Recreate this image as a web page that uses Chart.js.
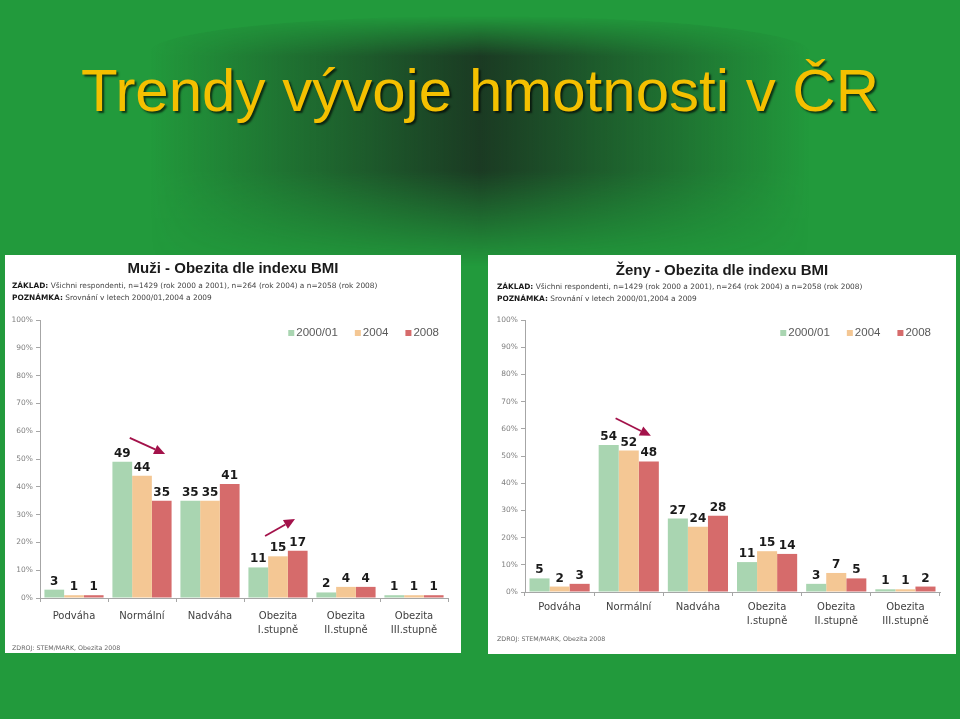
<!DOCTYPE html>
<html>
<head>
<meta charset="utf-8">
<script src="https://cdn.jsdelivr.net/npm/chart.js@4.4.0/dist/chart.umd.min.js"></script>
<style>
  html, body { margin: 0; padding: 0; }
  body {
    width: 960px; height: 719px; overflow: hidden; position: relative;
    background: #229a3c;
    font-family: "DejaVu Sans", sans-serif;
  }
  .shade {
    position: absolute; left: 150px; top: 16px; width: 660px; height: 250px;
    background: linear-gradient(to right, rgba(27,58,35,0) 0%, rgba(27,58,35,0.5) 25%, rgba(27,58,35,1) 50%, rgba(27,58,35,0.5) 75%, rgba(27,58,35,0) 100%);
    -webkit-mask-image: linear-gradient(to bottom, rgba(0,0,0,0) 0%, #000 16%, #000 62%, rgba(0,0,0,0) 100%);
    mask-image: linear-gradient(to bottom, rgba(0,0,0,0) 0%, #000 16%, #000 62%, rgba(0,0,0,0) 100%);
    border-radius: 50% 50% 0 0 / 36px 36px 0 0;
  }
  h1 {
    position: absolute; left: 0; top: 0; width: 960px; margin: 0;
    text-align: center;
    font-family: "Liberation Sans", Arial, sans-serif;
    font-weight: normal; font-size: 60px; line-height: 60px;
    padding-top: 61px;
    color: #f4c000;
    text-shadow: 2px 2px 2px rgba(0,0,0,0.65);
  }
  .panel { position: absolute; background: #fff; }
  .panel canvas { position: absolute; left: 0; top: 0; }
  .ptitle {
    position: absolute; left: 0; width: 100%; text-align: center;
    font-family: "Liberation Sans", sans-serif; font-weight: bold; font-size: 15px;
    color: #1a1a1a; line-height: 16px;
  }
  .pnote {
    position: absolute; font-size: 7.4px; color: #444; line-height: 9px; white-space: nowrap;
  }
  .pnote b { color: #1a1a1a; }
  .src {
    position: absolute; font-size: 6.3px; color: #666; white-space: nowrap;
  }
</style>
</head>
<body>
<div class="shade"></div>
<h1>Trendy vývoje hmotnosti v ČR</h1>

<div class="panel" style="left:5px; top:255px; width:456px; height:398px;">
  <canvas id="muzi" width="456" height="398"></canvas>
  <div class="ptitle" style="top:5px;">Muži - Obezita dle indexu BMI</div>
  <div class="pnote" style="left:7px; top:26px;"><b>ZÁKLAD:</b> Všichni respondenti, n=1429 (rok 2000 a 2001), n=264 (rok 2004) a n=2058 (rok 2008)</div>
  <div class="pnote" style="left:7px; top:38px;"><b>POZNÁMKA:</b> Srovnání v letech 2000/01,2004 a 2009</div>
  <div class="src" style="left:7px; top:389px;">ZDROJ: STEM/MARK, Obezita 2008</div>
</div>

<div class="panel" style="left:488px; top:255px; width:468px; height:399px;">
  <canvas id="zeny" width="468" height="399"></canvas>
  <div class="ptitle" style="top:7px;">Ženy - Obezita dle indexu BMI</div>
  <div class="pnote" style="left:9px; top:27px;"><b>ZÁKLAD:</b> Všichni respondenti, n=1429 (rok 2000 a 2001), n=264 (rok 2004) a n=2058 (rok 2008)</div>
  <div class="pnote" style="left:9px; top:39px;"><b>POZNÁMKA:</b> Srovnání v letech 2000/01,2004 a 2009</div>
  <div class="src" style="left:9px; top:380px;">ZDROJ: STEM/MARK, Obezita 2008</div>
</div>

<script>
// kategorie BMI
var categories = ['Podváha', 'Normální', 'Nadváha', ['Obezita', 'I.stupně'], ['Obezita', 'II.stupně'], ['Obezita', 'III.stupně']];
var years = ['2000/01', '2004', '2008'];
var yTicks = [0, 10, 20, 30, 40, 50, 60, 70, 80, 90, 100];

// Muži (%)
var muzi2000 = [3, 49, 35, 11, 2, 1];
var muzi2004 = [1, 44, 35, 15, 4, 1];
var muzi2008 = [1, 35, 41, 17, 4, 1];

// Ženy (%)
var zeny2000 = [5, 54, 27, 11, 3, 1];
var zeny2004 = [2, 52, 24, 15, 7, 1];
var zeny2008 = [3, 48, 28, 14, 5, 2];

var colors = ['#a9d5b1', '#f4c794', '#d66b6b'];

// popisky hodnot nad sloupci
var valueLabels = {
    id: 'valueLabels',
    afterDatasetsDraw: function (chart) {
        var ctx = chart.ctx;
        ctx.save();
        ctx.font = 'bold 12px "DejaVu Sans"';
        ctx.fillStyle = '#1a1a1a';
        ctx.textAlign = 'center';
        ctx.textBaseline = 'alphabetic';
        chart.data.datasets.forEach(function (ds, i) {
            chart.getDatasetMeta(i).data.forEach(function (bar, j) {
                ctx.fillText(ds.data[j], bar.x, bar.y - 5);
            });
        });
        ctx.restore();
    }
};

// legenda uvnitr grafu vpravo nahore
var innerLegend = {
    id: 'innerLegend',
    afterDraw: function (chart) {
        var ctx = chart.ctx, a = chart.chartArea;
        ctx.save();
        ctx.font = '11.5px "Liberation Sans"';
        ctx.textBaseline = 'middle';
        var x = a.right - 9, y = a.top + 13;
        var ds = chart.data.datasets;
        for (var i = ds.length - 1; i >= 0; i--) {
            var w = ctx.measureText(ds[i].label).width;
            x -= w;
            ctx.fillStyle = '#595959';
            ctx.fillText(ds[i].label, x, y);
            ctx.fillStyle = ds[i].backgroundColor;
            ctx.fillRect(x - 8, y - 3, 6, 6);
            x -= 8 + 17;
        }
        ctx.restore();
    }
};

// sipky (index kategorie, hodnota)
function arrows(list) {
    return {
        id: 'arrows',
        afterDatasetsDraw: function (chart) {
            var ctx = chart.ctx, xs = chart.scales.x, ys = chart.scales.y;
            ctx.save();
            ctx.strokeStyle = '#a3124a';
            ctx.fillStyle = '#a3124a';
            ctx.lineWidth = 1.8;
            list.forEach(function (ar) {
                var x1 = xs.getPixelForValue(ar[0]), y1 = ys.getPixelForValue(ar[1]);
                var x2 = xs.getPixelForValue(ar[2]), y2 = ys.getPixelForValue(ar[3]);
                var ang = Math.atan2(y2 - y1, x2 - x1);
                var len = 11, half = 5;
                var bx = x2 - len * Math.cos(ang), by = y2 - len * Math.sin(ang);
                ctx.beginPath();
                ctx.moveTo(x1, y1);
                ctx.lineTo(bx, by);
                ctx.stroke();
                ctx.beginPath();
                ctx.moveTo(x2, y2);
                ctx.lineTo(bx + half * Math.sin(ang), by - half * Math.cos(ang));
                ctx.lineTo(bx - half * Math.sin(ang), by + half * Math.cos(ang));
                ctx.closePath();
                ctx.fill();
            });
            ctx.restore();
        }
    };
}

function makeChart(id, series, arrowList, opt) {
    var ctx = document.getElementById(id);
    return new Chart(ctx, {
        type: 'bar',
        data: {
            labels: categories,
            datasets: years.map(function (y, i) {
                return {
                    label: y,
                    data: series[i],
                    backgroundColor: colors[i],
                    borderWidth: 0,
                    categoryPercentage: 0.87,
                    barPercentage: 1.0
                };
            })
        },
        options: {
            responsive: false,
            animation: false,
            devicePixelRatio: 1,
            layout: { padding: { top: opt.top, right: opt.right, left: 0, bottom: 0 } },
            plugins: { legend: { display: false }, tooltip: { enabled: false } },
            scales: {
                x: {
                    grid: { drawOnChartArea: false, tickLength: 4, color: '#a6a6a6' },
                    border: { color: '#a6a6a6' },
                    ticks: {
                        color: '#404040', padding: opt.xpad, maxRotation: 0, autoSkip: false,
                        font: { family: 'DejaVu Sans', size: 10, lineHeight: opt.lh }
                    },
                    afterFit: function (s) { s.height = opt.xh; }
                },
                y: {
                    min: 0, max: 100,
                    afterBuildTicks: function (s) { s.ticks = yTicks.map(function (v) { return { value: v }; }); },
                    grid: { drawOnChartArea: false, tickLength: 4, color: '#a6a6a6' },
                    border: { color: '#a6a6a6' },
                    ticks: {
                        color: '#7f7f7f', padding: 3,
                        font: { family: 'DejaVu Sans', size: 7.5 },
                        callback: function (v) { return v + '%'; }
                    },
                    afterFit: function (s) { s.width = opt.yw; }
                }
            }
        },
        plugins: [valueLabels, innerLegend, arrows(arrowList)]
    });
}

makeChart('muzi', [muzi2000, muzi2004, muzi2008],
    [[0.82, 57.6, 1.34, 51.8], [2.81, 22.3, 3.25, 28.4]],
    { top: 65, right: 13, yw: 35, xh: 55, xpad: 7, lh: 1.4 });

makeChart('zeny', [zeny2000, zeny2004, zeny2008],
    [[0.81, 63.9, 1.32, 57.4]],
    { top: 65, right: 16, yw: 37, xh: 62, xpad: 5, lh: 1.35 });
</script>
</body>
</html>
